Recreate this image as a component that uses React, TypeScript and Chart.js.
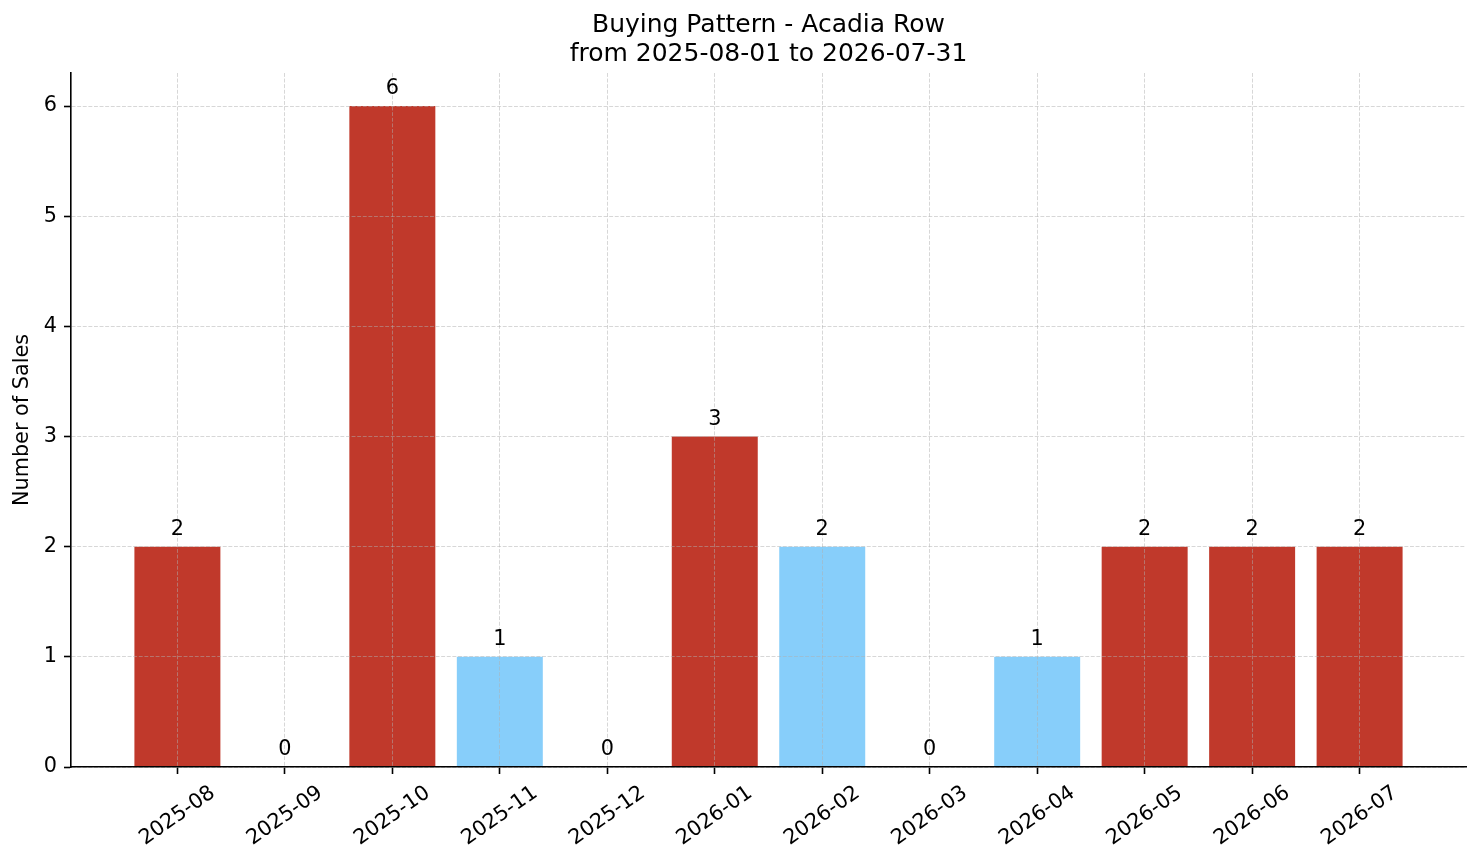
import { useEffect, useRef } from 'react'
import { Chart, registerables } from 'chart.js'

Chart.register(...registerables)

const months = [
  '2025-08', '2025-09', '2025-10', '2025-11', '2025-12', '2026-01',
  '2026-02', '2026-03', '2026-04', '2026-05', '2026-06', '2026-07',
]
const sales = [2, 0, 6, 1, 0, 3, 2, 0, 1, 2, 2, 2]
const barColors = [
  '#c0392b', '#c0392b', '#c0392b', '#87cefa', '#c0392b', '#c0392b',
  '#87cefa', '#c0392b', '#87cefa', '#c0392b', '#c0392b', '#c0392b',
]
const yTicks = [0, 1, 2, 3, 4, 5, 6]
const titleLines = ['Buying Pattern - Acadia Row', 'from 2025-08-01 to 2026-07-31']
const yTitle = 'Number of Sales'

const FONT = '"DejaVu Sans", sans-serif'
const TICK_SIZE = 20.8
const ROT = (35 * Math.PI) / 180

const textPlugin = {
  id: 'mplText',
  afterDraw(chart: Chart) {
    const { ctx, chartArea, scales } = chart
    const xs = scales.x
    const ys = scales.y
    ctx.save()
    ctx.fillStyle = '#000'

    // title
    ctx.font = `25px ${FONT}`
    ctx.textAlign = 'center'
    ctx.textBaseline = 'middle'
    const cx = (chartArea.left + chartArea.right) / 2
    ctx.fillText(titleLines[0], cx, 25)
    ctx.fillText(titleLines[1], cx, 54)

    // y axis title
    ctx.font = `${TICK_SIZE}px ${FONT}`
    ctx.save()
    ctx.translate(23, (chartArea.top + chartArea.bottom) / 2)
    ctx.rotate(-Math.PI / 2)
    ctx.fillText(yTitle, 0, 0)
    ctx.restore()

    // rotated month labels, centred on their ticks
    const top = chartArea.bottom + 7 + 7
    months.forEach((m, i) => {
      const w = ctx.measureText(m).width
      const h = TICK_SIZE * 1.17
      const bh = w * Math.sin(ROT) + h * Math.cos(ROT)
      ctx.save()
      ctx.translate(xs.getPixelForValue(i), top + bh / 2)
      ctx.rotate(-ROT)
      ctx.textAlign = 'center'
      ctx.textBaseline = 'middle'
      ctx.fillText(m, 0, 0)
      ctx.restore()
    })

    // value labels above bars
    ctx.textAlign = 'center'
    ctx.textBaseline = 'alphabetic'
    sales.forEach((v, i) => {
      ctx.fillText(String(v), xs.getPixelForValue(i), ys.getPixelForValue(v) - 12)
    })
    ctx.restore()
  },
}

export default function App() {
  const canvasRef = useRef<HTMLCanvasElement>(null)
  const chartRef = useRef<Chart | null>(null)

  useEffect(() => {
    if (!canvasRef.current) return
    document.body.style.margin = '0'
    chartRef.current?.destroy()

    const grid = {
      color: 'rgba(176,176,176,0.5)',
      lineWidth: 1,
      offset: false,
      tickColor: '#000',
      tickLength: 7,
      tickWidth: 1.6,
      tickBorderDash: [],
      z: 1,
    }
    const border = { color: '#000', width: 1.6, dash: [3.9, 1.7], z: 2 }

    chartRef.current = new Chart(canvasRef.current, {
      type: 'bar',
      data: {
        datasets: [{
          data: sales.map((v, i) => ({ x: i, y: v })),
          backgroundColor: barColors,
          borderWidth: 0,
          barPercentage: 0.8,
          categoryPercentage: 1,
        }],
      },
      options: {
        responsive: true,
        maintainAspectRatio: false,
        animation: false,
        layout: { padding: { left: 0, top: 73, right: 15, bottom: 0 } },
        plugins: {
          legend: { display: false },
          title: { display: false },
          tooltip: { enabled: false },
        },
        scales: {
          x: {
            type: 'linear',
            offset: false,
            min: -0.99,
            max: 11.99,
            afterBuildTicks: (s: any) => { s.ticks = months.map((_, i) => ({ value: i })) },
            afterFit: (s: any) => { s.height = 96 },
            ticks: { display: false },
            grid,
            border,
          },
          y: {
            min: 0,
            max: 6.3,
            afterBuildTicks: (s: any) => { s.ticks = yTicks.map((v) => ({ value: v })) },
            afterFit: (s: any) => { s.width = 71 },
            ticks: {
              color: '#000',
              padding: 7,
              font: { family: FONT, size: TICK_SIZE },
            },
            grid,
            border,
          },
        },
      },
      plugins: [textPlugin],
    })

    return () => { chartRef.current?.destroy() }
  }, [])

  return (
    <div style={{ width: 1481, height: 863, position: 'relative', background: '#fff' }}>
      <canvas ref={canvasRef} />
    </div>
  )
}
